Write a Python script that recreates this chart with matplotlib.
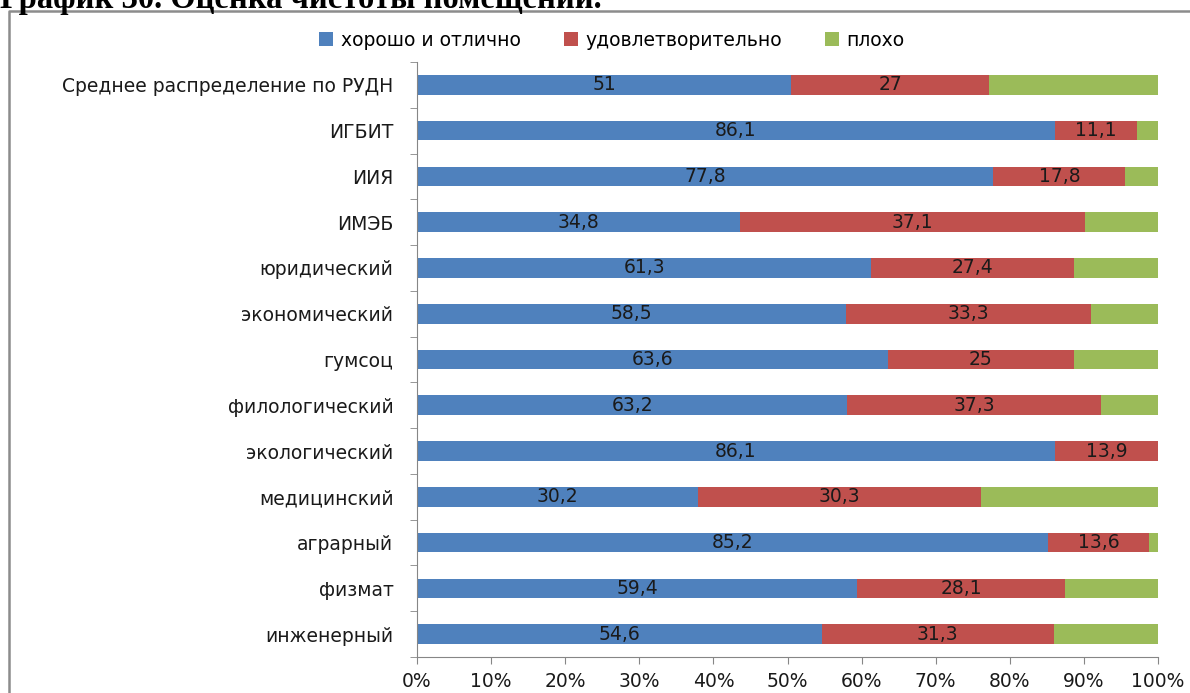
import numpy as np
import matplotlib
matplotlib.use("Agg")
import matplotlib.pyplot as plt
from matplotlib.lines import Line2D
from matplotlib.ticker import MultipleLocator, FuncFormatter

plt.rcParams['font.family'] = ['DejaVu Sans']

categories = ["Среднее распределение по РУДН", "ИГБИТ", "ИИЯ", "ИМЭБ",
              "юридический", "экономический", "гумсоц", "филологический",
              "экологический", "медицинский", "аграрный", "физмат", "инженерный"]
good = [51, 86.1, 77.8, 34.8, 61.3, 58.5, 63.6, 63.2, 86.1, 30.2, 85.2, 59.4, 54.6]
fair = [27, 11.1, 17.8, 37.1, 27.4, 33.3, 25, 37.3, 13.9, 30.3, 13.6, 28.1, 31.3]
bad = [23, 2.8, 4.4, 7.9, 11.3, 9.2, 11.4, 8.3, 0, 19.0, 1.2, 12.5, 14.1]
series_names = ["хорошо и отлично", "удовлетворительно", "плохо"]
colors = ["#4F81BD", "#C0504D", "#9BBB59"]

raw = np.array([good, fair, bad], dtype=float)
pct = raw / raw.sum(axis=0) * 100

fs = 13.5
fig = plt.figure(figsize=(11.9, 6.93), dpi=100)
ax = fig.add_axes([417/1190, 1-657/693, 741/1190, 595/693])

y = np.arange(len(categories))[::-1]
left = np.zeros(len(categories))
for i in range(3):
    ax.barh(y, pct[i], left=left, height=0.43, color=colors[i],
            edgecolor='none', label=series_names[i])
    if i < 2:
        for yy, l, w, v in zip(y, left, pct[i], raw[i]):
            ax.text(l + w/2, yy, f"{v:g}".replace('.', ','), ha='center',
                    va='center', fontsize=fs, color='#1a1a1a')
    left = left + pct[i]

ax.set_xlim(0, 100)
ax.set_ylim(-0.5, len(categories) - 0.5)
ax.set_yticks(y)
ax.set_yticklabels(categories, fontsize=fs, color='#1a1a1a')
ax.set_yticks(np.arange(-0.5, len(categories)), minor=True)
ax.tick_params(axis='y', which='major', length=0, pad=17)
ax.tick_params(axis='y', which='minor', length=5, color='#868686')
ax.xaxis.set_major_locator(MultipleLocator(10))
ax.xaxis.set_major_formatter(FuncFormatter(lambda v, p: f"{v:.0f}%"))
ax.tick_params(axis='x', length=5, color='#868686', labelsize=fs,
               labelcolor='#1a1a1a', pad=6)
for s in ['top', 'right']:
    ax.spines[s].set_visible(False)
for s in ['left', 'bottom']:
    ax.spines[s].set_color('#868686')

fig.legend(loc='center', bbox_to_anchor=(612/1190, 1-40/693), ncol=3,
           frameon=False, fontsize=fs, handlelength=0.75, handleheight=0.75,
           columnspacing=2.3, handletextpad=0.4)

# outer frame of the chart area
fx, fy = 9/1190, 1-11/693
fig.add_artist(Line2D([fx, fx, 1], [0, fy, fy], color='#8c8c8c', lw=1.8,
                      transform=fig.transFigure))

fig.text(0, 1-8/693, "График 30. Оценка чистоты помещений.",
         family='Liberation Serif', weight='bold', fontsize=23.5,
         ha='left', va='baseline')

fig.savefig("out.png", dpi=100)
